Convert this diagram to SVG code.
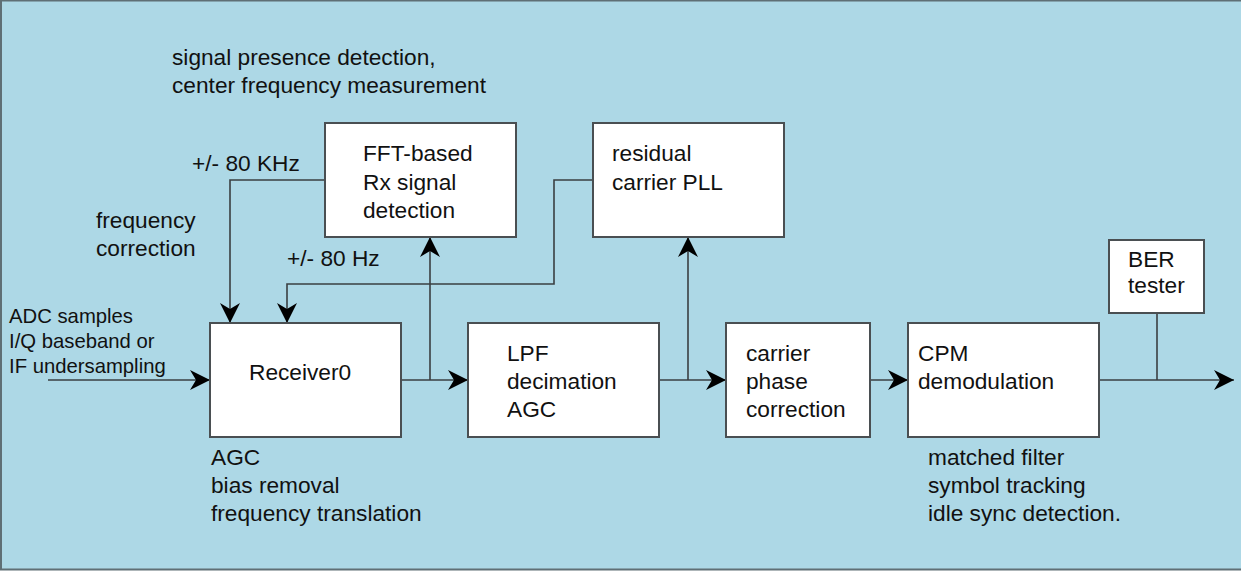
<svg xmlns="http://www.w3.org/2000/svg" width="1241" height="571" viewBox="0 0 1241 571">
<style>
.box{fill:#ffffff;stroke:#4a4f52;stroke-width:2}
.ln{fill:none;stroke:#3a3f42;stroke-width:1.6}
text{font-family:"Liberation Sans",Arial,sans-serif;font-size:22.7px;fill:#111111}
.sm{font-size:20.3px}
</style>
<defs>
<marker id="ah" markerUnits="userSpaceOnUse" markerWidth="24" markerHeight="24" viewBox="-22 -12 24 24" refX="0" refY="0" orient="auto">
<path d="M0,0 L-20,-10 L-14,0 L-20,10 Z" fill="#000000"/>
</marker>
</defs>
<rect x="1" y="0.5" width="1300" height="569" fill="#add8e6" stroke="#5f6f75" stroke-width="2"/>
<g id="connectors">
<path class="ln" d="M48,380 H210" marker-end="url(#ah)"/>
<path class="ln" d="M401,380 H468" marker-end="url(#ah)"/>
<path class="ln" d="M430,380 V237" marker-end="url(#ah)"/>
<path class="ln" d="M325,180 H230 V323" marker-end="url(#ah)"/>
<path class="ln" d="M593,180 H554 V284 H287 V323" marker-end="url(#ah)"/>
<path class="ln" d="M659,380 H726" marker-end="url(#ah)"/>
<path class="ln" d="M688,380 V237" marker-end="url(#ah)"/>
<path class="ln" d="M870,380 H908" marker-end="url(#ah)"/>
<path class="ln" d="M1099,380 H1234" marker-end="url(#ah)"/>
<path class="ln" d="M1157,380 V313"/>
</g>
<g id="fft">
<rect class="box" x="325" y="123" width="191" height="114"/>
<text x="363" y="161">FFT-based</text>
<text x="363" y="190">Rx signal</text>
<text x="363" y="218">detection</text>
</g>
<g id="pll">
<rect class="box" x="593" y="123" width="191" height="114"/>
<text x="612" y="161">residual</text>
<text x="612" y="190">carrier PLL</text>
</g>
<g id="receiver0">
<rect class="box" x="210" y="323" width="191" height="114"/>
<text x="249" y="380">Receiver0</text>
</g>
<g id="lpf">
<rect class="box" x="468" y="323" width="191" height="114"/>
<text x="507" y="361">LPF</text>
<text x="507" y="389">decimation</text>
<text x="507" y="417">AGC</text>
</g>
<g id="carrier">
<rect class="box" x="726" y="323" width="144" height="114"/>
<text x="746" y="361">carrier</text>
<text x="746" y="389">phase</text>
<text x="746" y="417">correction</text>
</g>
<g id="cpm">
<rect class="box" x="908" y="323" width="191" height="114"/>
<text x="918" y="361">CPM</text>
<text x="918" y="389">demodulation</text>
</g>
<g id="ber">
<rect class="box" x="1109" y="240" width="95" height="73"/>
<text x="1128" y="267">BER</text>
<text x="1128" y="293">tester</text>
</g>
<g id="labels">
<text x="172" y="65">signal presence detection,</text>
<text x="172" y="93">center frequency measurement</text>
<text x="192" y="171">+/- 80 KHz</text>
<text x="96" y="228">frequency</text>
<text x="96" y="256">correction</text>
<text x="287" y="266">+/- 80 Hz</text>
<text class="sm" x="9" y="323">ADC samples</text>
<text class="sm" x="9" y="348">I/Q baseband or</text>
<text class="sm" x="9" y="373">IF undersampling</text>
<text x="211" y="465">AGC</text>
<text x="211" y="493">bias removal</text>
<text x="211" y="521">frequency translation</text>
<text x="928" y="465">matched filter</text>
<text x="928" y="493">symbol tracking</text>
<text x="928" y="521">idle sync detection.</text>
</g>
</svg>
